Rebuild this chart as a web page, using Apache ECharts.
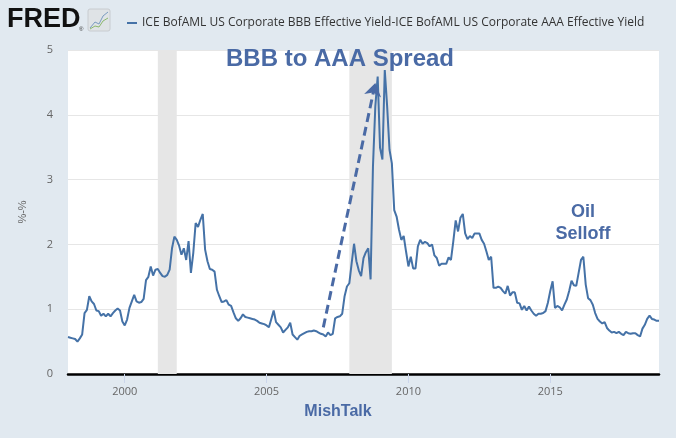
<!DOCTYPE html>
<html><head><meta charset="utf-8">
<script src="https://cdn.jsdelivr.net/npm/echarts@6/dist/echarts.min.js"></script>
<style>html,body{margin:0;padding:0;background:#e1e9f0}#c{width:676px;height:438px}</style>
</head><body><div id="c"></div>
<script>
// BBB - AAA effective yield spread, monthly from 1998-01 to 2018-11 (percentage points)
const spread = [
0.57,0.56,0.55,0.54,0.50,0.55,0.61,0.94,0.99,1.20,1.12,1.08,
0.98,0.97,0.90,0.93,0.89,0.93,0.89,0.94,0.98,1.01,0.98,0.81,
0.75,0.84,1.02,1.12,1.22,1.12,1.10,1.11,1.16,1.45,1.50,1.66,
1.52,1.61,1.62,1.56,1.51,1.50,1.53,1.61,1.94,2.12,2.07,1.98,
1.84,1.94,1.76,2.05,1.56,1.87,2.33,2.27,2.38,2.47,1.92,1.74,
1.62,1.61,1.58,1.30,1.20,1.11,1.12,1.14,1.07,1.05,0.95,0.86,
0.82,0.86,0.92,0.88,0.87,0.86,0.85,0.84,0.82,0.79,0.78,0.77,
0.75,0.72,0.85,0.98,0.80,0.76,0.72,0.64,0.68,0.72,0.79,0.61,
0.57,0.53,0.59,0.61,0.63,0.65,0.66,0.66,0.67,0.66,0.64,0.62,
0.61,0.58,0.64,0.60,0.62,0.86,0.88,0.89,0.93,1.20,1.35,1.40,
1.71,2.01,1.74,1.60,1.51,1.79,1.88,1.94,1.46,3.20,4.13,4.59,
3.49,3.31,4.69,4.13,3.46,3.25,2.53,2.43,2.23,2.07,2.13,1.89,
1.66,1.81,1.63,1.63,1.97,2.07,2.01,2.04,2.02,1.97,2.00,1.83,
1.79,1.67,1.70,1.70,1.70,1.80,1.76,2.05,2.37,2.20,2.41,2.47,
2.17,2.08,2.13,2.10,2.17,2.17,2.17,2.07,2.01,1.89,1.76,1.81,
1.33,1.33,1.35,1.33,1.28,1.24,1.36,1.21,1.26,1.26,1.10,1.09,
0.99,1.05,0.98,1.04,0.98,0.93,0.90,0.93,0.93,0.94,0.97,1.10,
1.28,1.43,1.02,1.05,1.03,0.98,1.07,1.15,1.28,1.44,1.37,1.36,
1.56,1.76,1.81,1.38,1.17,1.14,1.07,0.94,0.85,0.81,0.78,0.80,
0.71,0.67,0.64,0.65,0.63,0.65,0.62,0.60,0.65,0.63,0.62,0.63,
0.63,0.60,0.58,0.70,0.76,0.85,0.90,0.85,0.84,0.82,0.82
];
const firstYear = 1998;
const months = spread.map((_, i) => `${firstYear + Math.floor(i / 12)}-${String(i % 12 + 1).padStart(2, '0')}`);
const yearTicks = ['2000', '2005', '2010', '2015'];
const recessions = [['2001-03', '2001-11'], ['2007-12', '2009-06']];
const arrowFrom = ['2007-01', 0.72];
const arrowTo = ['2008-11', 4.49];
const seriesName = 'ICE BofAML US Corporate BBB Effective Yield-ICE BofAML US Corporate AAA Effective Yield';

const isYearTick = (i) => months[i].endsWith('-01') && yearTicks.includes(months[i].slice(0, 4));
const accent = '#4a6aa5';
const chart = echarts.init(document.getElementById('c'), null, {renderer: 'canvas'});
chart.setOption({
  backgroundColor: '#e1e9f0',
  animation: false,
  textStyle: {fontFamily: 'Liberation Sans, Arial, sans-serif'},
  grid: {left: 68, right: 17, top: 50, bottom: 64, show: true, backgroundColor: '#ffffff', borderWidth: 0},
  legend: {
    left: 122, top: 12, itemWidth: 10, itemHeight: 2, itemGap: 8,
    icon: 'rect',
    textStyle: {fontFamily: 'Open Sans, sans-serif', fontSize: 12, color: '#333'},
    data: [seriesName]
  },
  xAxis: {
    type: 'category', data: months, boundaryGap: false,
    axisLine: {lineStyle: {color: '#000', width: 2.5}},
    axisTick: {interval: (i) => isYearTick(i), length: 9, lineStyle: {color: '#ccd6eb'}},
    axisLabel: {interval: (i) => isYearTick(i), formatter: (v) => v.slice(0, 4), color: '#666', fontSize: 11, margin: 12, fontFamily: 'Open Sans, sans-serif'},
    splitLine: {show: false}
  },
  yAxis: {
    type: 'value', min: 0, max: 5, interval: 1,
    name: '%-%', nameLocation: 'middle', nameGap: 40, nameRotate: 90,
    nameTextStyle: {color: '#666', fontSize: 11},
    axisLine: {show: false}, axisTick: {show: false},
    axisLabel: {color: '#666', fontSize: 11, margin: 15, fontFamily: 'Open Sans, sans-serif'},
    splitLine: {lineStyle: {color: '#e6e6e6', width: 1}}
  },
  series: [
    {
      type: 'line', name: 'recessions', data: [], z: 1, silent: true,
      markArea: {silent: true, itemStyle: {color: '#e6e6e6'},
        data: recessions.map(r => [{xAxis: r[0]}, {xAxis: r[1]}])}
    },
    {
      type: 'line', name: seriesName, data: spread, z: 3,
      showSymbol: false, symbol: 'none',
      lineStyle: {color: '#4572a7', width: 2}, itemStyle: {color: '#4572a7'},
      markLine: {
        silent: true, symbol: ['none', 'arrow'], symbolSize: 13,
        label: {show: false},
        lineStyle: {color: accent, width: 3, type: [9, 5]},
        data: [[{coord: arrowFrom}, {coord: arrowTo}]]
      }
    }
  ],
  graphic: [
    {type: 'text', z: 100, left: 7, top: 6, style: {text: 'FRED', font: '900 27px "Liberation Sans", Arial, sans-serif', fill: '#111'}},
    {type: 'text', z: 100, left: 79, top: 26, style: {text: '®', font: '6px sans-serif', fill: '#333'}},
    {type: 'rect', z: 100, shape: {x: 88, y: 9, width: 22, height: 22, r: 2}, style: {fill: '#dfe3e6', stroke: '#c8ccd0'}},
    {type: 'polyline', z: 101, shape: {points: [[90, 28], [95, 22], [99, 24], [103, 16], [108, 12]]}, style: {stroke: '#7a9cc0', lineWidth: 1, fill: null}},
    {type: 'polyline', z: 101, shape: {points: [[90, 29], [95, 26], [99, 27], [103, 21], [108, 18]]}, style: {stroke: '#8cb86c', lineWidth: 1, fill: null}},
    {type: 'text', z: 100, x: 340, y: 59, style: {text: 'BBB to AAA Spread', font: 'bold 24px "Liberation Sans", Arial, sans-serif', fill: accent, align: 'center', verticalAlign: 'middle'}},
    {type: 'text', z: 100, x: 583, y: 212, style: {text: 'Oil', font: 'bold 18px "Liberation Sans", Arial, sans-serif', fill: accent, align: 'center', verticalAlign: 'middle'}},
    {type: 'text', z: 100, x: 583, y: 234, style: {text: 'Selloff', font: 'bold 18px "Liberation Sans", Arial, sans-serif', fill: accent, align: 'center', verticalAlign: 'middle'}},
    {type: 'text', z: 100, x: 338, y: 412, style: {text: 'MishTalk', font: 'bold 16px "Liberation Sans", Arial, sans-serif', fill: accent, align: 'center', verticalAlign: 'middle'}}
  ]
});
</script></body></html>
